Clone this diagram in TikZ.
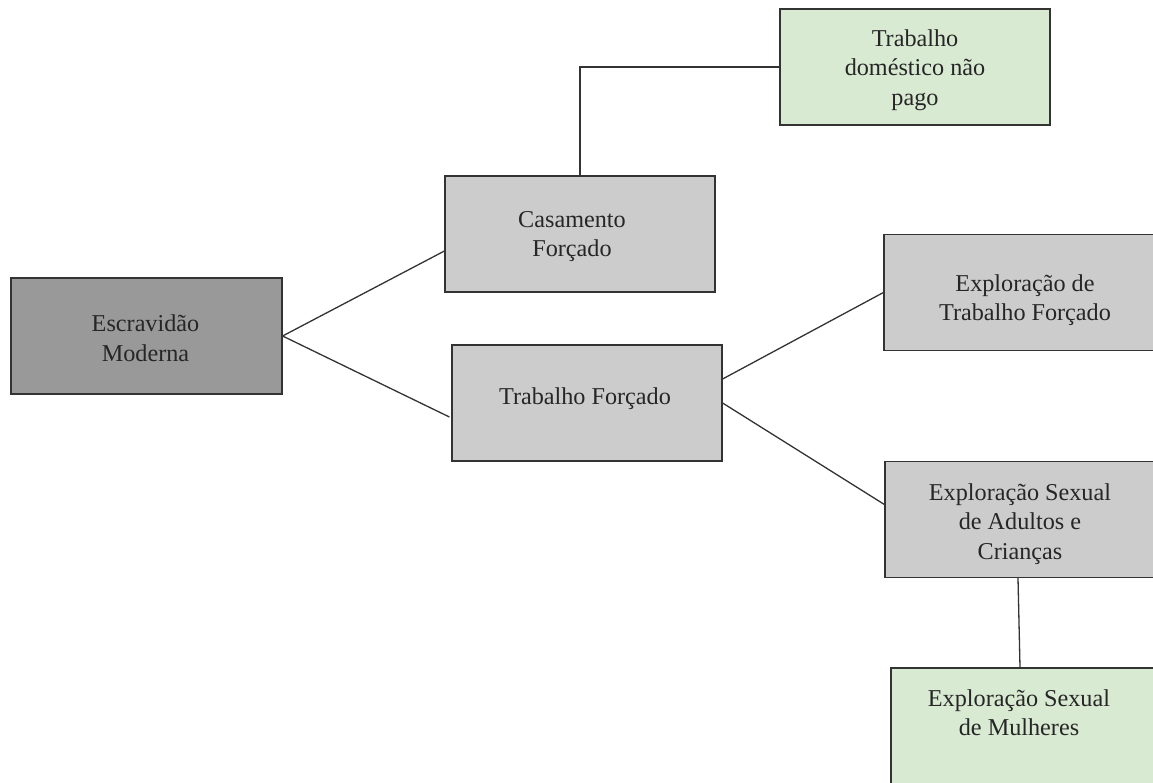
\documentclass[tikz,border=0pt]{standalone}
\usepackage{fontspec}
\setmainfont{Liberation Serif}
\definecolor{darkbox}{HTML}{999999}
\definecolor{lightbox}{HTML}{CCCCCC}
\definecolor{greenbox}{HTML}{D9EAD3}
\definecolor{edgecol}{HTML}{333333}
% #1 = first baseline below box top, #2 = horizontal shift of text, #3 = lines
\newcommand\boxtxt[3]{\parbox[c][116pt][t]{270pt}{\centering
  \advance\leftskip by #2\relax\advance\rightskip by -#2\relax
  \vspace*{\dimexpr#1-.7\baselineskip\relax}\strut #3}}
\begin{document}
\begin{tikzpicture}[x=1pt,y=-1pt,
  box/.style={draw=edgecol, line width=1.2pt, rectangle, minimum width=270pt, minimum height=116pt,
    inner sep=0pt, font=\fontsize{24.2}{29.5}\selectfont, text=black!85},
  conn/.style={draw=edgecol, line width=1.3pt}]
\useasboundingbox (0,0) rectangle (1153,783);
\clip (0,0) rectangle (1153,783);
\node[box, fill=darkbox, minimum width=271pt] (escr) at (146.5,336) {\boxtxt{53.5pt}{-1pt}{Escravidão\\Moderna}};
\node[box, fill=lightbox] (cas) at (580,234) {\boxtxt{51.5pt}{-8pt}{Casamento\\Forçado}};
\node[box, fill=lightbox] (tf) at (587,403) {\boxtxt{59pt}{-2pt}{Trabalho Forçado}};
\node[box, fill=greenbox] (tdn) at (915,67) {\boxtxt{37.5pt}{0pt}{Trabalho\\doméstico não\\pago}};
\node[box, fill=lightbox] (etf) at (1019,292.5) {\boxtxt{57pt}{6pt}{Exploração de\\Trabalho Forçado}};
\node[box, fill=lightbox] (esa) at (1020,519.5) {\boxtxt{38.5pt}{0pt}{Exploração Sexual\\de Adultos e\\Crianças}};
\node[box, fill=greenbox] (mul) at (1026,726) {\boxtxt{38pt}{-7pt}{Exploração Sexual\\de Mulheres}};
\draw[conn] (escr.east) -- ([yshift=-17pt]cas.west);
\draw[conn] (escr.east) -- ([yshift=-14pt,xshift=-2pt]tf.west);
\draw[conn] (cas.north) |- (tdn.west);
\draw[conn] ([yshift=24pt]tf.east) -- (etf.west);
\draw[conn] (tf.east) -- ([yshift=15pt]esa.west);
\draw[conn] ([xshift=-2pt]esa.south) -- ([xshift=-6pt]mul.north);
\end{tikzpicture}
\end{document}
